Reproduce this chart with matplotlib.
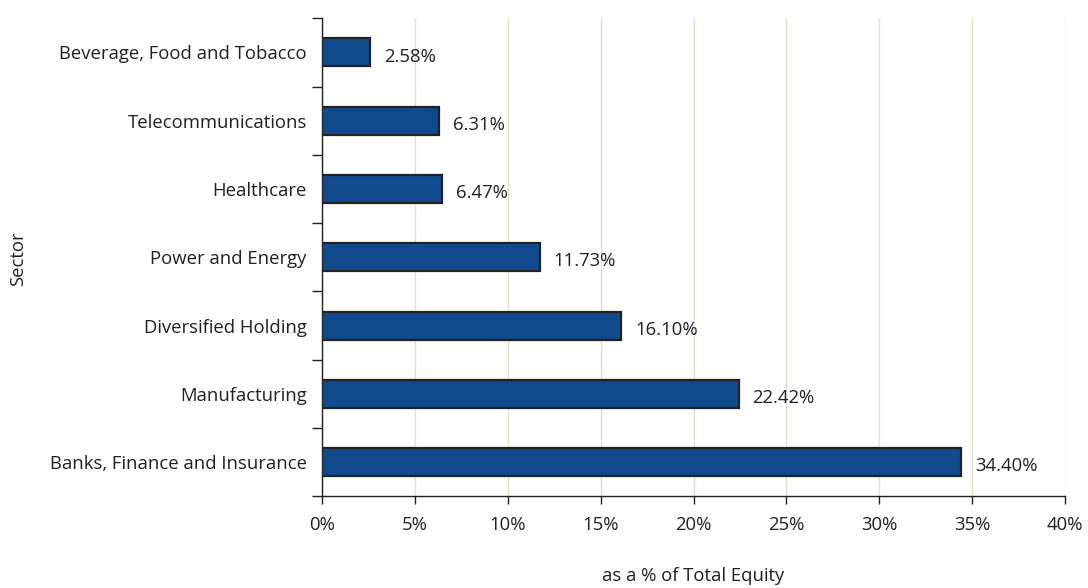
import matplotlib.pyplot as plt
from matplotlib.ticker import FixedLocator, PercentFormatter

sectors = ["Banks, Finance and Insurance", "Manufacturing", "Diversified Holding",
           "Power and Energy", "Healthcare", "Telecommunications",
           "Beverage, Food and Tobacco"]
shares = [34.40, 22.42, 16.10, 11.73, 6.47, 6.31, 2.58]

plt.rcParams['font.family'] = ['Open Sans', 'DejaVu Sans']
plt.rcParams['font.size'] = 13.3

fig = plt.figure(figsize=(10.88, 5.88), dpi=100)
ax = fig.add_axes([0.296, 0.156, 0.683, 0.813])

pos = list(range(len(sectors)))
ax.barh(pos, shares, height=0.41, color="#114b8e", edgecolor="#222222",
        linewidth=1.6, zorder=3)
for y, v in zip(pos, shares):
    ax.annotate(f"{v:.2f}%", (v, y), xytext=(10, -3), textcoords="offset points",
                va="center", ha="left", color="#231f20")

ax.set_xlim(0, 40)
ax.set_ylim(-0.5, len(sectors) - 0.5)
ax.set_xticks(range(0, 41, 5))
ax.xaxis.set_major_formatter(PercentFormatter(decimals=0))
ax.set_yticks(pos)
ax.set_yticklabels(sectors)
ax.yaxis.set_minor_locator(FixedLocator([p - 0.5 for p in range(len(sectors) + 1)]))
ax.tick_params(axis="y", which="major", length=0, pad=11, colors="#231f20")
ax.tick_params(axis="y", which="minor", length=7, width=1, color="#231f20")
ax.tick_params(axis="x", length=6, width=1, pad=8, colors="#231f20")

ax.grid(axis="x", color="#e3e0cc", linewidth=1, zorder=0)
for s in ["top", "right"]:
    ax.spines[s].set_visible(False)
for s in ["left", "bottom"]:
    ax.spines[s].set_color("#231f20")
    ax.spines[s].set_linewidth(1)

# axis titles placed in figure coords so they sit where the reference has them
fig.text(0.637, 7 / 588, "as a % of Total Equity", va="baseline", ha="center",
         color="#231f20")
fig.text(0.017, 0.56, "Sector", rotation=90, va="center", ha="center",
         color="#231f20")

fig.savefig("out.png", dpi=100)
